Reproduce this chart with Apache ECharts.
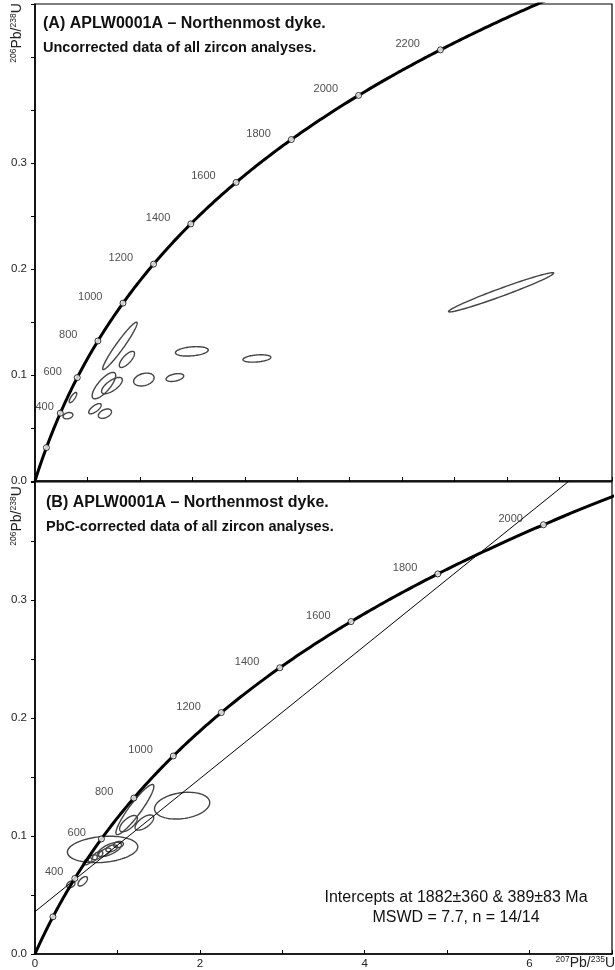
<!DOCTYPE html>
<html><head><meta charset="utf-8">
<script src="https://cdn.jsdelivr.net/npm/echarts@6.0.0/dist/echarts.min.js"></script>
<style>html,body{margin:0;padding:0;background:#fff}#c{width:615px;height:970px}</style>
</head><body><div id="c"></div>
<script>
// Decay constants (per year)
const L235 = 9.8485e-10, L238 = 1.55125e-10;

// Concordia age markers (Ma)
const markerAgesA = [200, 400, 600, 800, 1000, 1200, 1400, 1600, 1800, 2000, 2200];
const labelAgesA  = [400, 600, 800, 1000, 1200, 1400, 1600, 1800, 2000, 2200];
const markerAgesB = [200, 400, 600, 800, 1000, 1200, 1400, 1600, 1800, 2000];
const labelAgesB  = [400, 600, 800, 1000, 1200, 1400, 1600, 1800, 2000];

// Error ellipses: [207Pb/235U, 206Pb/238U, sigmaX, sigmaY, rho]
const ellipsesA = [
  [1.619, 0.1275, 0.329, 0.0224, 0.96],
  [1.752, 0.1147, 0.145, 0.0076, 0.736],
  [2.99, 0.1223, 0.313, 0.00444, 0.285],
  [4.23, 0.1156, 0.266, 0.0035, 0.31],
  [2.076, 0.0957, 0.195, 0.00607, 0.282],
  [2.667, 0.0976, 0.168, 0.0037, 0.405],
  [1.314, 0.090, 0.2246, 0.01245, 0.766],
  [1.467, 0.090, 0.198, 0.00769, 0.69],
  [0.724, 0.0787, 0.0713, 0.00483, 0.778],
  [0.629, 0.0616, 0.093, 0.003, 0.258],
  [1.143, 0.0682, 0.119, 0.00484, 0.71],
  [1.333, 0.0635, 0.125, 0.00443, 0.41],
  [8.886, 0.178, 1.002, 0.0185, 0.977]
];
const ellipsesB = [
  [1.785, 0.1257, 0.335, 0.01135, 0.227],
  [1.212, 0.1224, 0.230, 0.02124, 0.921],
  [1.134, 0.1105, 0.1077, 0.00687, 0.654],
  [1.327, 0.1114, 0.113, 0.00644, 0.638],
  [0.82, 0.0886, 0.427, 0.0112, 0.201],
  [0.905, 0.0886, 0.1444, 0.00602, 0.647],
  [0.844, 0.0861, 0.0753, 0.00368, 0.637],
  [0.929, 0.0895, 0.0691, 0.00294, 0.434],
  [0.76, 0.0835, 0.0628, 0.00357, 0.576],
  [0.639, 0.0785, 0.0524, 0.00297, 0.576],
  [0.579, 0.0616, 0.0572, 0.004, 0.6],
  [0.434, 0.059, 0.0504, 0.0029, 0.34],
  [0.70, 0.081, 0.0553, 0.00304, 0.42],
  [1.013, 0.0928, 0.0597, 0.0026, 0.18]
];

// Discordia intercept ages (Ma)
const interceptAges = [389, 1882];

// Axis tick labels
const yTickLabelsA = ['0.0', '0.1', '0.2', '0.3'];
const yTickLabelsB = ['0.0', '0.1', '0.2', '0.3'];
const xTickLabelsB = ['0', '2', '4', '6'];

// ---------- builders ----------
function concordiaPoint(ma) {
  const t = ma * 1e6;
  return [Math.exp(L235 * t) - 1, Math.exp(L238 * t) - 1];
}
function concordiaCurve(maxMa) {
  const pts = [];
  for (let a = 0; a <= maxMa; a += 5) pts.push(concordiaPoint(a));
  return pts;
}
const labelDist = { 400: 3, 600: 12 };
function markers(ages, labelled, dist400) {
  return ages.map(a => {
    const p = concordiaPoint(a);
    let d = labelDist[a] !== undefined ? labelDist[a] : 17;
    if (a === 400) d = dist400;
    return {
      value: [p[0], p[1], a],
      label: { show: labelled.indexOf(a) >= 0, distance: d }
    };
  });
}
function ellipseRender(params, api) {
  const cx = api.value(0), cy = api.value(1), sx = api.value(2), sy = api.value(3), r = api.value(4);
  const q = Math.sqrt(1 - r * r);
  const pts = [];
  const N = 90;
  for (let i = 0; i < N; i++) {
    const t = i / N * Math.PI * 2;
    pts.push(api.coord([cx + sx * Math.cos(t), cy + sy * (r * Math.cos(t) + q * Math.sin(t))]));
  }
  return { type: 'polygon', shape: { points: pts }, style: { fill: 'none', stroke: '#444', lineWidth: 1.4 } };
}
const p1 = concordiaPoint(interceptAges[0]), p2 = concordiaPoint(interceptAges[1]);
const slope = (p2[1] - p1[1]) / (p2[0] - p1[0]);
const y0 = p1[1] - slope * p1[0];
const discordia = [[0, y0], [8, y0 + slope * 8]];

const font = 'Liberation Sans, Arial, sans-serif';
const markerLabel = { show: true, position: 'left', offset: [0, -6], fontSize: 11, fontFamily: font, color: '#222' };

function yLabelFmt(list) {
  return v => { const s = v.toFixed(1); return (Math.abs(v * 10 - Math.round(v * 10)) < 1e-6 && list.indexOf(s) >= 0) ? s : ''; };
}

const chart = echarts.init(document.getElementById('c'), null, { renderer: 'canvas' });
const axisLineStyle = { color: '#000', width: 1.6 };
const supRich = {
  s: { fontSize: 8.5, fontFamily: font, fill: '#222', lineHeight: 15, verticalAlign: 'top' },
  m: { fontSize: 14, fontFamily: font, fill: '#222', lineHeight: 15 }
};
const option = {
  animation: false,
  backgroundColor: '#fff',
  grid: [
    { left: 35, top: 4, width: 577, height: 477, show: true, borderColor: '#000', borderWidth: 1.2 },
    { left: 35, top: 482, width: 577, height: 474, show: true, borderColor: '#000', borderWidth: 1.2 }
  ],
  xAxis: [
    { gridIndex: 0, type: 'value', min: 0, max: 11, interval: 1,
      axisLine: { show: true, onZero: false, lineStyle: axisLineStyle },
      axisTick: { show: true, inside: true, length: 4, lineStyle: { color: '#000' } },
      axisLabel: { show: false }, splitLine: { show: false } },
    { gridIndex: 1, type: 'value', min: 0, max: 7, interval: 1,
      axisLine: { show: true, onZero: false, lineStyle: axisLineStyle },
      axisTick: { show: true, inside: true, length: 4, lineStyle: { color: '#000' } },
      axisLabel: { show: true, fontSize: 11.5, fontFamily: font, color: '#222', margin: 4,
        formatter: v => { const s = String(Math.round(v)); return (Math.abs(v - Math.round(v)) < 1e-6 && xTickLabelsB.indexOf(s) >= 0) ? s : ''; } },
      splitLine: { show: false } }
  ],
  yAxis: [
    { gridIndex: 0, type: 'value', min: 0, max: 0.45, interval: 0.1,
      axisLine: { show: true, onZero: false, lineStyle: axisLineStyle },
      axisTick: { show: true, inside: false, length: 4, lineStyle: { color: '#000' } },
      axisLabel: { show: true, fontSize: 11.5, fontFamily: font, color: '#222', margin: 8, formatter: yLabelFmt(yTickLabelsA) },
      splitLine: { show: false } },
    { gridIndex: 0, type: 'value', min: 0, max: 0.45, interval: 0.05,
      axisLine: { show: false }, axisTick: { show: true, inside: true, length: 4, lineStyle: { color: '#000' } },
      axisLabel: { show: false }, splitLine: { show: false } },
    { gridIndex: 1, type: 'value', min: 0, max: 0.40, interval: 0.1,
      axisLine: { show: true, onZero: false, lineStyle: axisLineStyle },
      axisTick: { show: true, inside: false, length: 4, lineStyle: { color: '#000' } },
      axisLabel: { show: true, fontSize: 11.5, fontFamily: font, color: '#222', margin: 8, formatter: yLabelFmt(yTickLabelsB) },
      splitLine: { show: false } },
    { gridIndex: 1, type: 'value', min: 0, max: 0.40, interval: 0.05,
      axisLine: { show: false }, axisTick: { show: true, inside: true, length: 4, lineStyle: { color: '#000' } },
      axisLabel: { show: false }, splitLine: { show: false } }
  ],
  series: [
    { type: 'custom', xAxisIndex: 0, yAxisIndex: 0, renderItem: ellipseRender, data: ellipsesA, encode: { x: 0, y: 1 }, clip: true, z: 2 },
    { type: 'line', xAxisIndex: 0, yAxisIndex: 0, data: concordiaCurve(2700), showSymbol: false, clip: true,
      lineStyle: { color: '#000', width: 3 }, z: 3 },
    { type: 'scatter', xAxisIndex: 0, yAxisIndex: 0, data: markers(markerAgesA, labelAgesA, 3), symbol: 'circle', symbolSize: 6,
      itemStyle: { color: '#fff', borderColor: '#000', borderWidth: 1 }, label: Object.assign({}, markerLabel, { formatter: p => String(p.value[2]) }), z: 4 },

    { type: 'custom', xAxisIndex: 1, yAxisIndex: 2, renderItem: ellipseRender, data: ellipsesB, encode: { x: 0, y: 1 }, clip: true, z: 2 },
    { type: 'line', xAxisIndex: 1, yAxisIndex: 2, data: discordia, showSymbol: false, clip: true,
      lineStyle: { color: '#000', width: 1 }, z: 3 },
    { type: 'line', xAxisIndex: 1, yAxisIndex: 2, data: concordiaCurve(2300), showSymbol: false, clip: true,
      lineStyle: { color: '#000', width: 3 }, z: 3 },
    { type: 'scatter', xAxisIndex: 1, yAxisIndex: 2, data: markers(markerAgesB, labelAgesB, 8), symbol: 'circle', symbolSize: 6,
      itemStyle: { color: '#fff', borderColor: '#000', borderWidth: 1 }, label: Object.assign({}, markerLabel, { formatter: p => String(p.value[2]) }), z: 4 }
  ],
  graphic: [
    { type: 'text', x: 43, y: 24, style: { text: '(A) APLW0001A – Northenmost dyke.', font: 'bold 16px ' + font, fill: '#111', verticalAlign: 'middle' } },
    { type: 'text', x: 43, y: 48, style: { text: 'Uncorrected data of all zircon analyses.', font: 'bold 14.5px ' + font, fill: '#111', verticalAlign: 'middle' } },
    { type: 'text', x: 46, y: 503, style: { text: '(B) APLW0001A – Northenmost dyke.', font: 'bold 16px ' + font, fill: '#111', verticalAlign: 'middle' } },
    { type: 'text', x: 46, y: 527, style: { text: 'PbC-corrected data of all zircon analyses.', font: 'bold 14.5px ' + font, fill: '#111', verticalAlign: 'middle' } },
    { type: 'text', x: 17, y: 33, rotation: Math.PI / 2, style: { text: '{s|206}{m|Pb/}{s|238}{m|U}', align: 'center', verticalAlign: 'middle', rich: supRich } },
    { type: 'text', x: 17, y: 516, rotation: Math.PI / 2, style: { text: '{s|206}{m|Pb/}{s|238}{m|U}', align: 'center', verticalAlign: 'middle', rich: supRich } },
    { type: 'text', x: 615, y: 963, style: { text: '{s|207}{m|Pb/}{s|235}{m|U}', align: 'right', verticalAlign: 'middle', rich: supRich } },
    { type: 'text', x: 456, y: 898, style: { text: 'Intercepts at 1882±360 & 389±83 Ma', font: '16px ' + font, fill: '#111', align: 'center', verticalAlign: 'middle' } },
    { type: 'text', x: 456, y: 918, style: { text: 'MSWD = 7.7, n = 14/14', font: '16px ' + font, fill: '#111', align: 'center', verticalAlign: 'middle' } }
  ]
};
chart.setOption(option);
</script>
</body></html>
